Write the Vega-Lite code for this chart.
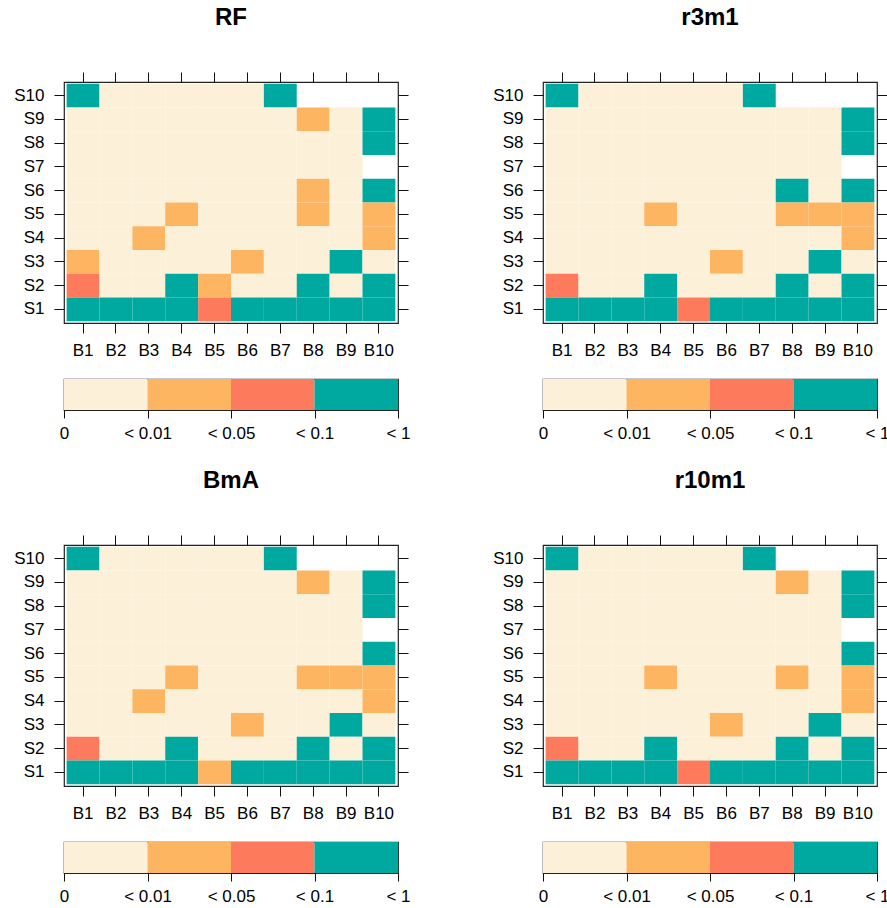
{
"$schema": "https://vega.github.io/schema/vega-lite/v6.json",
"background": "white",
"padding": {"left": 13, "top": 4, "right": 0, "bottom": 0},
"datasets": {
"bar": [{"lo":0,"hi":1,"l":1},{"lo":1,"hi":2,"l":2},{"lo":2,"hi":3,"l":3},{"lo":3,"hi":4,"l":4}],
"cells": [
{"m":"RF","s":"S10","b":"B1","l":4},{"m":"RF","s":"S10","b":"B2","l":1},{"m":"RF","s":"S10","b":"B3","l":1},{"m":"RF","s":"S10","b":"B4","l":1},{"m":"RF","s":"S10","b":"B5","l":1},{"m":"RF","s":"S10","b":"B6","l":1},{"m":"RF","s":"S10","b":"B7","l":4},
{"m":"RF","s":"S9","b":"B1","l":1},{"m":"RF","s":"S9","b":"B2","l":1},{"m":"RF","s":"S9","b":"B3","l":1},{"m":"RF","s":"S9","b":"B4","l":1},{"m":"RF","s":"S9","b":"B5","l":1},{"m":"RF","s":"S9","b":"B6","l":1},{"m":"RF","s":"S9","b":"B7","l":1},{"m":"RF","s":"S9","b":"B8","l":2},{"m":"RF","s":"S9","b":"B9","l":1},{"m":"RF","s":"S9","b":"B10","l":4},
{"m":"RF","s":"S8","b":"B1","l":1},{"m":"RF","s":"S8","b":"B2","l":1},{"m":"RF","s":"S8","b":"B3","l":1},{"m":"RF","s":"S8","b":"B4","l":1},{"m":"RF","s":"S8","b":"B5","l":1},{"m":"RF","s":"S8","b":"B6","l":1},{"m":"RF","s":"S8","b":"B7","l":1},{"m":"RF","s":"S8","b":"B8","l":1},{"m":"RF","s":"S8","b":"B9","l":1},{"m":"RF","s":"S8","b":"B10","l":4},
{"m":"RF","s":"S7","b":"B1","l":1},{"m":"RF","s":"S7","b":"B2","l":1},{"m":"RF","s":"S7","b":"B3","l":1},{"m":"RF","s":"S7","b":"B4","l":1},{"m":"RF","s":"S7","b":"B5","l":1},{"m":"RF","s":"S7","b":"B6","l":1},{"m":"RF","s":"S7","b":"B7","l":1},{"m":"RF","s":"S7","b":"B8","l":1},{"m":"RF","s":"S7","b":"B9","l":1},
{"m":"RF","s":"S6","b":"B1","l":1},{"m":"RF","s":"S6","b":"B2","l":1},{"m":"RF","s":"S6","b":"B3","l":1},{"m":"RF","s":"S6","b":"B4","l":1},{"m":"RF","s":"S6","b":"B5","l":1},{"m":"RF","s":"S6","b":"B6","l":1},{"m":"RF","s":"S6","b":"B7","l":1},{"m":"RF","s":"S6","b":"B8","l":2},{"m":"RF","s":"S6","b":"B9","l":1},{"m":"RF","s":"S6","b":"B10","l":4},
{"m":"RF","s":"S5","b":"B1","l":1},{"m":"RF","s":"S5","b":"B2","l":1},{"m":"RF","s":"S5","b":"B3","l":1},{"m":"RF","s":"S5","b":"B4","l":2},{"m":"RF","s":"S5","b":"B5","l":1},{"m":"RF","s":"S5","b":"B6","l":1},{"m":"RF","s":"S5","b":"B7","l":1},{"m":"RF","s":"S5","b":"B8","l":2},{"m":"RF","s":"S5","b":"B9","l":1},{"m":"RF","s":"S5","b":"B10","l":2},
{"m":"RF","s":"S4","b":"B1","l":1},{"m":"RF","s":"S4","b":"B2","l":1},{"m":"RF","s":"S4","b":"B3","l":2},{"m":"RF","s":"S4","b":"B4","l":1},{"m":"RF","s":"S4","b":"B5","l":1},{"m":"RF","s":"S4","b":"B6","l":1},{"m":"RF","s":"S4","b":"B7","l":1},{"m":"RF","s":"S4","b":"B8","l":1},{"m":"RF","s":"S4","b":"B9","l":1},{"m":"RF","s":"S4","b":"B10","l":2},
{"m":"RF","s":"S3","b":"B1","l":2},{"m":"RF","s":"S3","b":"B2","l":1},{"m":"RF","s":"S3","b":"B3","l":1},{"m":"RF","s":"S3","b":"B4","l":1},{"m":"RF","s":"S3","b":"B5","l":1},{"m":"RF","s":"S3","b":"B6","l":2},{"m":"RF","s":"S3","b":"B7","l":1},{"m":"RF","s":"S3","b":"B8","l":1},{"m":"RF","s":"S3","b":"B9","l":4},{"m":"RF","s":"S3","b":"B10","l":1},
{"m":"RF","s":"S2","b":"B1","l":3},{"m":"RF","s":"S2","b":"B2","l":1},{"m":"RF","s":"S2","b":"B3","l":1},{"m":"RF","s":"S2","b":"B4","l":4},{"m":"RF","s":"S2","b":"B5","l":2},{"m":"RF","s":"S2","b":"B6","l":1},{"m":"RF","s":"S2","b":"B7","l":1},{"m":"RF","s":"S2","b":"B8","l":4},{"m":"RF","s":"S2","b":"B9","l":1},{"m":"RF","s":"S2","b":"B10","l":4},
{"m":"RF","s":"S1","b":"B1","l":4},{"m":"RF","s":"S1","b":"B2","l":4},{"m":"RF","s":"S1","b":"B3","l":4},{"m":"RF","s":"S1","b":"B4","l":4},{"m":"RF","s":"S1","b":"B5","l":3},{"m":"RF","s":"S1","b":"B6","l":4},{"m":"RF","s":"S1","b":"B7","l":4},{"m":"RF","s":"S1","b":"B8","l":4},{"m":"RF","s":"S1","b":"B9","l":4},{"m":"RF","s":"S1","b":"B10","l":4},

{"m":"r3m1","s":"S10","b":"B1","l":4},{"m":"r3m1","s":"S10","b":"B2","l":1},{"m":"r3m1","s":"S10","b":"B3","l":1},{"m":"r3m1","s":"S10","b":"B4","l":1},{"m":"r3m1","s":"S10","b":"B5","l":1},{"m":"r3m1","s":"S10","b":"B6","l":1},{"m":"r3m1","s":"S10","b":"B7","l":4},
{"m":"r3m1","s":"S9","b":"B1","l":1},{"m":"r3m1","s":"S9","b":"B2","l":1},{"m":"r3m1","s":"S9","b":"B3","l":1},{"m":"r3m1","s":"S9","b":"B4","l":1},{"m":"r3m1","s":"S9","b":"B5","l":1},{"m":"r3m1","s":"S9","b":"B6","l":1},{"m":"r3m1","s":"S9","b":"B7","l":1},{"m":"r3m1","s":"S9","b":"B8","l":1},{"m":"r3m1","s":"S9","b":"B9","l":1},{"m":"r3m1","s":"S9","b":"B10","l":4},
{"m":"r3m1","s":"S8","b":"B1","l":1},{"m":"r3m1","s":"S8","b":"B2","l":1},{"m":"r3m1","s":"S8","b":"B3","l":1},{"m":"r3m1","s":"S8","b":"B4","l":1},{"m":"r3m1","s":"S8","b":"B5","l":1},{"m":"r3m1","s":"S8","b":"B6","l":1},{"m":"r3m1","s":"S8","b":"B7","l":1},{"m":"r3m1","s":"S8","b":"B8","l":1},{"m":"r3m1","s":"S8","b":"B9","l":1},{"m":"r3m1","s":"S8","b":"B10","l":4},
{"m":"r3m1","s":"S7","b":"B1","l":1},{"m":"r3m1","s":"S7","b":"B2","l":1},{"m":"r3m1","s":"S7","b":"B3","l":1},{"m":"r3m1","s":"S7","b":"B4","l":1},{"m":"r3m1","s":"S7","b":"B5","l":1},{"m":"r3m1","s":"S7","b":"B6","l":1},{"m":"r3m1","s":"S7","b":"B7","l":1},{"m":"r3m1","s":"S7","b":"B8","l":1},{"m":"r3m1","s":"S7","b":"B9","l":1},
{"m":"r3m1","s":"S6","b":"B1","l":1},{"m":"r3m1","s":"S6","b":"B2","l":1},{"m":"r3m1","s":"S6","b":"B3","l":1},{"m":"r3m1","s":"S6","b":"B4","l":1},{"m":"r3m1","s":"S6","b":"B5","l":1},{"m":"r3m1","s":"S6","b":"B6","l":1},{"m":"r3m1","s":"S6","b":"B7","l":1},{"m":"r3m1","s":"S6","b":"B8","l":4},{"m":"r3m1","s":"S6","b":"B9","l":1},{"m":"r3m1","s":"S6","b":"B10","l":4},
{"m":"r3m1","s":"S5","b":"B1","l":1},{"m":"r3m1","s":"S5","b":"B2","l":1},{"m":"r3m1","s":"S5","b":"B3","l":1},{"m":"r3m1","s":"S5","b":"B4","l":2},{"m":"r3m1","s":"S5","b":"B5","l":1},{"m":"r3m1","s":"S5","b":"B6","l":1},{"m":"r3m1","s":"S5","b":"B7","l":1},{"m":"r3m1","s":"S5","b":"B8","l":2},{"m":"r3m1","s":"S5","b":"B9","l":2},{"m":"r3m1","s":"S5","b":"B10","l":2},
{"m":"r3m1","s":"S4","b":"B1","l":1},{"m":"r3m1","s":"S4","b":"B2","l":1},{"m":"r3m1","s":"S4","b":"B3","l":1},{"m":"r3m1","s":"S4","b":"B4","l":1},{"m":"r3m1","s":"S4","b":"B5","l":1},{"m":"r3m1","s":"S4","b":"B6","l":1},{"m":"r3m1","s":"S4","b":"B7","l":1},{"m":"r3m1","s":"S4","b":"B8","l":1},{"m":"r3m1","s":"S4","b":"B9","l":1},{"m":"r3m1","s":"S4","b":"B10","l":2},
{"m":"r3m1","s":"S3","b":"B1","l":1},{"m":"r3m1","s":"S3","b":"B2","l":1},{"m":"r3m1","s":"S3","b":"B3","l":1},{"m":"r3m1","s":"S3","b":"B4","l":1},{"m":"r3m1","s":"S3","b":"B5","l":1},{"m":"r3m1","s":"S3","b":"B6","l":2},{"m":"r3m1","s":"S3","b":"B7","l":1},{"m":"r3m1","s":"S3","b":"B8","l":1},{"m":"r3m1","s":"S3","b":"B9","l":4},{"m":"r3m1","s":"S3","b":"B10","l":1},
{"m":"r3m1","s":"S2","b":"B1","l":3},{"m":"r3m1","s":"S2","b":"B2","l":1},{"m":"r3m1","s":"S2","b":"B3","l":1},{"m":"r3m1","s":"S2","b":"B4","l":4},{"m":"r3m1","s":"S2","b":"B5","l":1},{"m":"r3m1","s":"S2","b":"B6","l":1},{"m":"r3m1","s":"S2","b":"B7","l":1},{"m":"r3m1","s":"S2","b":"B8","l":4},{"m":"r3m1","s":"S2","b":"B9","l":1},{"m":"r3m1","s":"S2","b":"B10","l":4},
{"m":"r3m1","s":"S1","b":"B1","l":4},{"m":"r3m1","s":"S1","b":"B2","l":4},{"m":"r3m1","s":"S1","b":"B3","l":4},{"m":"r3m1","s":"S1","b":"B4","l":4},{"m":"r3m1","s":"S1","b":"B5","l":3},{"m":"r3m1","s":"S1","b":"B6","l":4},{"m":"r3m1","s":"S1","b":"B7","l":4},{"m":"r3m1","s":"S1","b":"B8","l":4},{"m":"r3m1","s":"S1","b":"B9","l":4},{"m":"r3m1","s":"S1","b":"B10","l":4},

{"m":"BmA","s":"S10","b":"B1","l":4},{"m":"BmA","s":"S10","b":"B2","l":1},{"m":"BmA","s":"S10","b":"B3","l":1},{"m":"BmA","s":"S10","b":"B4","l":1},{"m":"BmA","s":"S10","b":"B5","l":1},{"m":"BmA","s":"S10","b":"B6","l":1},{"m":"BmA","s":"S10","b":"B7","l":4},
{"m":"BmA","s":"S9","b":"B1","l":1},{"m":"BmA","s":"S9","b":"B2","l":1},{"m":"BmA","s":"S9","b":"B3","l":1},{"m":"BmA","s":"S9","b":"B4","l":1},{"m":"BmA","s":"S9","b":"B5","l":1},{"m":"BmA","s":"S9","b":"B6","l":1},{"m":"BmA","s":"S9","b":"B7","l":1},{"m":"BmA","s":"S9","b":"B8","l":2},{"m":"BmA","s":"S9","b":"B9","l":1},{"m":"BmA","s":"S9","b":"B10","l":4},
{"m":"BmA","s":"S8","b":"B1","l":1},{"m":"BmA","s":"S8","b":"B2","l":1},{"m":"BmA","s":"S8","b":"B3","l":1},{"m":"BmA","s":"S8","b":"B4","l":1},{"m":"BmA","s":"S8","b":"B5","l":1},{"m":"BmA","s":"S8","b":"B6","l":1},{"m":"BmA","s":"S8","b":"B7","l":1},{"m":"BmA","s":"S8","b":"B8","l":1},{"m":"BmA","s":"S8","b":"B9","l":1},{"m":"BmA","s":"S8","b":"B10","l":4},
{"m":"BmA","s":"S7","b":"B1","l":1},{"m":"BmA","s":"S7","b":"B2","l":1},{"m":"BmA","s":"S7","b":"B3","l":1},{"m":"BmA","s":"S7","b":"B4","l":1},{"m":"BmA","s":"S7","b":"B5","l":1},{"m":"BmA","s":"S7","b":"B6","l":1},{"m":"BmA","s":"S7","b":"B7","l":1},{"m":"BmA","s":"S7","b":"B8","l":1},{"m":"BmA","s":"S7","b":"B9","l":1},
{"m":"BmA","s":"S6","b":"B1","l":1},{"m":"BmA","s":"S6","b":"B2","l":1},{"m":"BmA","s":"S6","b":"B3","l":1},{"m":"BmA","s":"S6","b":"B4","l":1},{"m":"BmA","s":"S6","b":"B5","l":1},{"m":"BmA","s":"S6","b":"B6","l":1},{"m":"BmA","s":"S6","b":"B7","l":1},{"m":"BmA","s":"S6","b":"B8","l":1},{"m":"BmA","s":"S6","b":"B9","l":1},{"m":"BmA","s":"S6","b":"B10","l":4},
{"m":"BmA","s":"S5","b":"B1","l":1},{"m":"BmA","s":"S5","b":"B2","l":1},{"m":"BmA","s":"S5","b":"B3","l":1},{"m":"BmA","s":"S5","b":"B4","l":2},{"m":"BmA","s":"S5","b":"B5","l":1},{"m":"BmA","s":"S5","b":"B6","l":1},{"m":"BmA","s":"S5","b":"B7","l":1},{"m":"BmA","s":"S5","b":"B8","l":2},{"m":"BmA","s":"S5","b":"B9","l":2},{"m":"BmA","s":"S5","b":"B10","l":2},
{"m":"BmA","s":"S4","b":"B1","l":1},{"m":"BmA","s":"S4","b":"B2","l":1},{"m":"BmA","s":"S4","b":"B3","l":2},{"m":"BmA","s":"S4","b":"B4","l":1},{"m":"BmA","s":"S4","b":"B5","l":1},{"m":"BmA","s":"S4","b":"B6","l":1},{"m":"BmA","s":"S4","b":"B7","l":1},{"m":"BmA","s":"S4","b":"B8","l":1},{"m":"BmA","s":"S4","b":"B9","l":1},{"m":"BmA","s":"S4","b":"B10","l":2},
{"m":"BmA","s":"S3","b":"B1","l":1},{"m":"BmA","s":"S3","b":"B2","l":1},{"m":"BmA","s":"S3","b":"B3","l":1},{"m":"BmA","s":"S3","b":"B4","l":1},{"m":"BmA","s":"S3","b":"B5","l":1},{"m":"BmA","s":"S3","b":"B6","l":2},{"m":"BmA","s":"S3","b":"B7","l":1},{"m":"BmA","s":"S3","b":"B8","l":1},{"m":"BmA","s":"S3","b":"B9","l":4},{"m":"BmA","s":"S3","b":"B10","l":1},
{"m":"BmA","s":"S2","b":"B1","l":3},{"m":"BmA","s":"S2","b":"B2","l":1},{"m":"BmA","s":"S2","b":"B3","l":1},{"m":"BmA","s":"S2","b":"B4","l":4},{"m":"BmA","s":"S2","b":"B5","l":1},{"m":"BmA","s":"S2","b":"B6","l":1},{"m":"BmA","s":"S2","b":"B7","l":1},{"m":"BmA","s":"S2","b":"B8","l":4},{"m":"BmA","s":"S2","b":"B9","l":1},{"m":"BmA","s":"S2","b":"B10","l":4},
{"m":"BmA","s":"S1","b":"B1","l":4},{"m":"BmA","s":"S1","b":"B2","l":4},{"m":"BmA","s":"S1","b":"B3","l":4},{"m":"BmA","s":"S1","b":"B4","l":4},{"m":"BmA","s":"S1","b":"B5","l":2},{"m":"BmA","s":"S1","b":"B6","l":4},{"m":"BmA","s":"S1","b":"B7","l":4},{"m":"BmA","s":"S1","b":"B8","l":4},{"m":"BmA","s":"S1","b":"B9","l":4},{"m":"BmA","s":"S1","b":"B10","l":4},

{"m":"r10m1","s":"S10","b":"B1","l":4},{"m":"r10m1","s":"S10","b":"B2","l":1},{"m":"r10m1","s":"S10","b":"B3","l":1},{"m":"r10m1","s":"S10","b":"B4","l":1},{"m":"r10m1","s":"S10","b":"B5","l":1},{"m":"r10m1","s":"S10","b":"B6","l":1},{"m":"r10m1","s":"S10","b":"B7","l":4},
{"m":"r10m1","s":"S9","b":"B1","l":1},{"m":"r10m1","s":"S9","b":"B2","l":1},{"m":"r10m1","s":"S9","b":"B3","l":1},{"m":"r10m1","s":"S9","b":"B4","l":1},{"m":"r10m1","s":"S9","b":"B5","l":1},{"m":"r10m1","s":"S9","b":"B6","l":1},{"m":"r10m1","s":"S9","b":"B7","l":1},{"m":"r10m1","s":"S9","b":"B8","l":2},{"m":"r10m1","s":"S9","b":"B9","l":1},{"m":"r10m1","s":"S9","b":"B10","l":4},
{"m":"r10m1","s":"S8","b":"B1","l":1},{"m":"r10m1","s":"S8","b":"B2","l":1},{"m":"r10m1","s":"S8","b":"B3","l":1},{"m":"r10m1","s":"S8","b":"B4","l":1},{"m":"r10m1","s":"S8","b":"B5","l":1},{"m":"r10m1","s":"S8","b":"B6","l":1},{"m":"r10m1","s":"S8","b":"B7","l":1},{"m":"r10m1","s":"S8","b":"B8","l":1},{"m":"r10m1","s":"S8","b":"B9","l":1},{"m":"r10m1","s":"S8","b":"B10","l":4},
{"m":"r10m1","s":"S7","b":"B1","l":1},{"m":"r10m1","s":"S7","b":"B2","l":1},{"m":"r10m1","s":"S7","b":"B3","l":1},{"m":"r10m1","s":"S7","b":"B4","l":1},{"m":"r10m1","s":"S7","b":"B5","l":1},{"m":"r10m1","s":"S7","b":"B6","l":1},{"m":"r10m1","s":"S7","b":"B7","l":1},{"m":"r10m1","s":"S7","b":"B8","l":1},{"m":"r10m1","s":"S7","b":"B9","l":1},
{"m":"r10m1","s":"S6","b":"B1","l":1},{"m":"r10m1","s":"S6","b":"B2","l":1},{"m":"r10m1","s":"S6","b":"B3","l":1},{"m":"r10m1","s":"S6","b":"B4","l":1},{"m":"r10m1","s":"S6","b":"B5","l":1},{"m":"r10m1","s":"S6","b":"B6","l":1},{"m":"r10m1","s":"S6","b":"B7","l":1},{"m":"r10m1","s":"S6","b":"B8","l":1},{"m":"r10m1","s":"S6","b":"B9","l":1},{"m":"r10m1","s":"S6","b":"B10","l":4},
{"m":"r10m1","s":"S5","b":"B1","l":1},{"m":"r10m1","s":"S5","b":"B2","l":1},{"m":"r10m1","s":"S5","b":"B3","l":1},{"m":"r10m1","s":"S5","b":"B4","l":2},{"m":"r10m1","s":"S5","b":"B5","l":1},{"m":"r10m1","s":"S5","b":"B6","l":1},{"m":"r10m1","s":"S5","b":"B7","l":1},{"m":"r10m1","s":"S5","b":"B8","l":2},{"m":"r10m1","s":"S5","b":"B9","l":1},{"m":"r10m1","s":"S5","b":"B10","l":2},
{"m":"r10m1","s":"S4","b":"B1","l":1},{"m":"r10m1","s":"S4","b":"B2","l":1},{"m":"r10m1","s":"S4","b":"B3","l":1},{"m":"r10m1","s":"S4","b":"B4","l":1},{"m":"r10m1","s":"S4","b":"B5","l":1},{"m":"r10m1","s":"S4","b":"B6","l":1},{"m":"r10m1","s":"S4","b":"B7","l":1},{"m":"r10m1","s":"S4","b":"B8","l":1},{"m":"r10m1","s":"S4","b":"B9","l":1},{"m":"r10m1","s":"S4","b":"B10","l":2},
{"m":"r10m1","s":"S3","b":"B1","l":1},{"m":"r10m1","s":"S3","b":"B2","l":1},{"m":"r10m1","s":"S3","b":"B3","l":1},{"m":"r10m1","s":"S3","b":"B4","l":1},{"m":"r10m1","s":"S3","b":"B5","l":1},{"m":"r10m1","s":"S3","b":"B6","l":2},{"m":"r10m1","s":"S3","b":"B7","l":1},{"m":"r10m1","s":"S3","b":"B8","l":1},{"m":"r10m1","s":"S3","b":"B9","l":4},{"m":"r10m1","s":"S3","b":"B10","l":1},
{"m":"r10m1","s":"S2","b":"B1","l":3},{"m":"r10m1","s":"S2","b":"B2","l":1},{"m":"r10m1","s":"S2","b":"B3","l":1},{"m":"r10m1","s":"S2","b":"B4","l":4},{"m":"r10m1","s":"S2","b":"B5","l":1},{"m":"r10m1","s":"S2","b":"B6","l":1},{"m":"r10m1","s":"S2","b":"B7","l":1},{"m":"r10m1","s":"S2","b":"B8","l":4},{"m":"r10m1","s":"S2","b":"B9","l":1},{"m":"r10m1","s":"S2","b":"B10","l":4},
{"m":"r10m1","s":"S1","b":"B1","l":4},{"m":"r10m1","s":"S1","b":"B2","l":4},{"m":"r10m1","s":"S1","b":"B3","l":4},{"m":"r10m1","s":"S1","b":"B4","l":4},{"m":"r10m1","s":"S1","b":"B5","l":3},{"m":"r10m1","s":"S1","b":"B6","l":4},{"m":"r10m1","s":"S1","b":"B7","l":4},{"m":"r10m1","s":"S1","b":"B8","l":4},{"m":"r10m1","s":"S1","b":"B9","l":4},{"m":"r10m1","s":"S1","b":"B10","l":4}
]
},
"config": {
  "font": "Liberation Sans",
  "view": {"stroke": "#222222", "strokeWidth": 1.2},
  "axis": {"domain": false, "grid": false, "tickColor": "#111111", "tickSize": 10, "tickWidth": 1, "labelFontSize": 17, "labelColor": "black", "labelFont": "Liberation Sans", "labelPadding": 9, "title": null, "labelAngle": 0},
  "axisLeft": {"labelPadding": 10},
  "title": {"fontSize": 24, "fontWeight": "bold", "color": "black", "font": "Liberation Sans", "baseline": "alphabetic", "offset": 42, "anchor": "middle"},
  "rect": {"strokeWidth": 0}
},
"spacing": 25,
"vconcat": [
 {"spacing": 81, "hconcat": [
  {"bounds": "flush", "spacing": 56, "vconcat": [
   {"title": {"text": "RF"}, "width": 334, "height": 241, "data": {"name": "cells"}, "transform": [{"filter": "datum.m === 'RF'"}],
    "layer": [
     {"mark": {"type": "rect"}, "encoding": {
       "x": {"field": "b", "type": "nominal", "scale": {"domain": ["B1","B2","B3","B4","B5","B6","B7","B8","B9","B10"], "paddingInner": 0, "paddingOuter": 0.08}, "axis": {"orient": "bottom"}},
       "y": {"field": "s", "type": "nominal", "scale": {"domain": ["S10","S9","S8","S7","S6","S5","S4","S3","S2","S1"], "paddingInner": 0, "paddingOuter": 0.07}, "axis": {"orient": "left"}},
       "color": {"field": "l", "type": "ordinal", "scale": {"domain": [1,2,3,4], "range": ["#FCF1D8","#FDB562","#FE7A5D","#00A9A0"]}, "legend": null}}},
     {"mark": {"type": "rect", "opacity": 0}, "encoding": {
       "x": {"field": "b", "type": "nominal", "axis": {"orient": "top", "labels": false}},
       "y": {"field": "s", "type": "nominal", "axis": {"orient": "right", "labels": false}}}}
    ],
    "resolve": {"axis": {"x": "independent", "y": "independent"}}},
   {"width": 334, "height": 31, "data": {"name": "bar"}, "mark": {"type": "rect"},
    "encoding": {
     "x": {"field": "lo", "type": "quantitative", "scale": {"domain": [0,4], "nice": false, "zero": false}, "axis": {"values": [0,1,2,3,4], "labelExpr": "['0','< 0.01','< 0.05','< 0.1','< 1'][datum.value]", "tickSize": 8, "labelFlush": false, "labelOverlap": false, "labelBound": false, "labelPadding": 7}},
     "x2": {"field": "hi"},
     "color": {"field": "l", "type": "ordinal", "scale": {"domain": [1,2,3,4], "range": ["#FCF1D8","#FDB562","#FE7A5D","#00A9A0"]}, "legend": null}}}
  ]},
  {"bounds": "flush", "spacing": 56, "vconcat": [
   {"title": {"text": "r3m1"}, "width": 334, "height": 241, "data": {"name": "cells"}, "transform": [{"filter": "datum.m === 'r3m1'"}],
    "layer": [
     {"mark": {"type": "rect"}, "encoding": {
       "x": {"field": "b", "type": "nominal", "scale": {"domain": ["B1","B2","B3","B4","B5","B6","B7","B8","B9","B10"], "paddingInner": 0, "paddingOuter": 0.08}, "axis": {"orient": "bottom"}},
       "y": {"field": "s", "type": "nominal", "scale": {"domain": ["S10","S9","S8","S7","S6","S5","S4","S3","S2","S1"], "paddingInner": 0, "paddingOuter": 0.07}, "axis": {"orient": "left"}},
       "color": {"field": "l", "type": "ordinal", "scale": {"domain": [1,2,3,4], "range": ["#FCF1D8","#FDB562","#FE7A5D","#00A9A0"]}, "legend": null}}},
     {"mark": {"type": "rect", "opacity": 0}, "encoding": {
       "x": {"field": "b", "type": "nominal", "axis": {"orient": "top", "labels": false}},
       "y": {"field": "s", "type": "nominal", "axis": {"orient": "right", "labels": false}}}}
    ],
    "resolve": {"axis": {"x": "independent", "y": "independent"}}},
   {"width": 334, "height": 31, "data": {"name": "bar"}, "mark": {"type": "rect"},
    "encoding": {
     "x": {"field": "lo", "type": "quantitative", "scale": {"domain": [0,4], "nice": false, "zero": false}, "axis": {"values": [0,1,2,3,4], "labelExpr": "['0','< 0.01','< 0.05','< 0.1','< 1'][datum.value]", "tickSize": 8, "labelFlush": false, "labelOverlap": false, "labelBound": false, "labelPadding": 7}},
     "x2": {"field": "hi"},
     "color": {"field": "l", "type": "ordinal", "scale": {"domain": [1,2,3,4], "range": ["#FCF1D8","#FDB562","#FE7A5D","#00A9A0"]}, "legend": null}}}
  ]}
 ]},
 {"spacing": 81, "hconcat": [
  {"bounds": "flush", "spacing": 56, "vconcat": [
   {"title": {"text": "BmA"}, "width": 334, "height": 241, "data": {"name": "cells"}, "transform": [{"filter": "datum.m === 'BmA'"}],
    "layer": [
     {"mark": {"type": "rect"}, "encoding": {
       "x": {"field": "b", "type": "nominal", "scale": {"domain": ["B1","B2","B3","B4","B5","B6","B7","B8","B9","B10"], "paddingInner": 0, "paddingOuter": 0.08}, "axis": {"orient": "bottom"}},
       "y": {"field": "s", "type": "nominal", "scale": {"domain": ["S10","S9","S8","S7","S6","S5","S4","S3","S2","S1"], "paddingInner": 0, "paddingOuter": 0.07}, "axis": {"orient": "left"}},
       "color": {"field": "l", "type": "ordinal", "scale": {"domain": [1,2,3,4], "range": ["#FCF1D8","#FDB562","#FE7A5D","#00A9A0"]}, "legend": null}}},
     {"mark": {"type": "rect", "opacity": 0}, "encoding": {
       "x": {"field": "b", "type": "nominal", "axis": {"orient": "top", "labels": false}},
       "y": {"field": "s", "type": "nominal", "axis": {"orient": "right", "labels": false}}}}
    ],
    "resolve": {"axis": {"x": "independent", "y": "independent"}}},
   {"width": 334, "height": 31, "data": {"name": "bar"}, "mark": {"type": "rect"},
    "encoding": {
     "x": {"field": "lo", "type": "quantitative", "scale": {"domain": [0,4], "nice": false, "zero": false}, "axis": {"values": [0,1,2,3,4], "labelExpr": "['0','< 0.01','< 0.05','< 0.1','< 1'][datum.value]", "tickSize": 8, "labelFlush": false, "labelOverlap": false, "labelBound": false, "labelPadding": 7}},
     "x2": {"field": "hi"},
     "color": {"field": "l", "type": "ordinal", "scale": {"domain": [1,2,3,4], "range": ["#FCF1D8","#FDB562","#FE7A5D","#00A9A0"]}, "legend": null}}}
  ]},
  {"bounds": "flush", "spacing": 56, "vconcat": [
   {"title": {"text": "r10m1"}, "width": 334, "height": 241, "data": {"name": "cells"}, "transform": [{"filter": "datum.m === 'r10m1'"}],
    "layer": [
     {"mark": {"type": "rect"}, "encoding": {
       "x": {"field": "b", "type": "nominal", "scale": {"domain": ["B1","B2","B3","B4","B5","B6","B7","B8","B9","B10"], "paddingInner": 0, "paddingOuter": 0.08}, "axis": {"orient": "bottom"}},
       "y": {"field": "s", "type": "nominal", "scale": {"domain": ["S10","S9","S8","S7","S6","S5","S4","S3","S2","S1"], "paddingInner": 0, "paddingOuter": 0.07}, "axis": {"orient": "left"}},
       "color": {"field": "l", "type": "ordinal", "scale": {"domain": [1,2,3,4], "range": ["#FCF1D8","#FDB562","#FE7A5D","#00A9A0"]}, "legend": null}}},
     {"mark": {"type": "rect", "opacity": 0}, "encoding": {
       "x": {"field": "b", "type": "nominal", "axis": {"orient": "top", "labels": false}},
       "y": {"field": "s", "type": "nominal", "axis": {"orient": "right", "labels": false}}}}
    ],
    "resolve": {"axis": {"x": "independent", "y": "independent"}}},
   {"width": 334, "height": 31, "data": {"name": "bar"}, "mark": {"type": "rect"},
    "encoding": {
     "x": {"field": "lo", "type": "quantitative", "scale": {"domain": [0,4], "nice": false, "zero": false}, "axis": {"values": [0,1,2,3,4], "labelExpr": "['0','< 0.01','< 0.05','< 0.1','< 1'][datum.value]", "tickSize": 8, "labelFlush": false, "labelOverlap": false, "labelBound": false, "labelPadding": 7}},
     "x2": {"field": "hi"},
     "color": {"field": "l", "type": "ordinal", "scale": {"domain": [1,2,3,4], "range": ["#FCF1D8","#FDB562","#FE7A5D","#00A9A0"]}, "legend": null}}}
  ]}
 ]}
]
}
